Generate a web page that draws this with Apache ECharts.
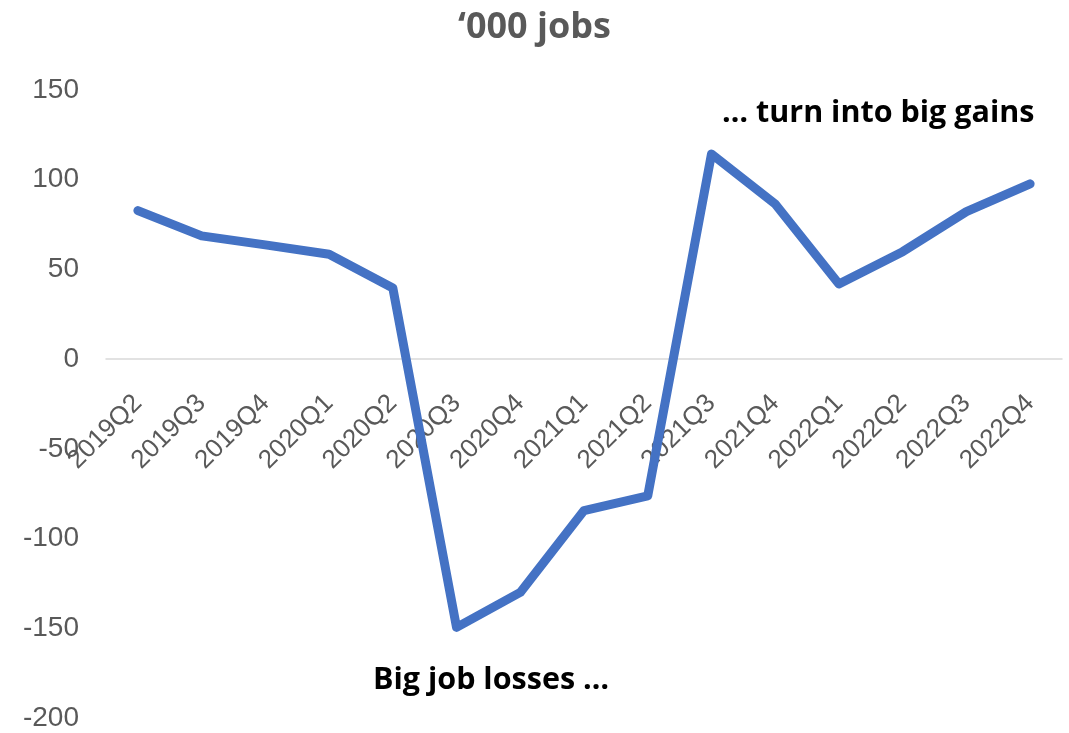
<!DOCTYPE html>
<html>
<head>
<meta charset="utf-8">
<script src="https://cdn.jsdelivr.net/npm/echarts@6/dist/echarts.min.js"></script>
<style>
  html, body { margin: 0; padding: 0; background: #ffffff; }
  #chart { width: 1069px; height: 733px; }
</style>
</head>
<body>
<div id="chart"></div>
<script>
// Quarterly change in employment, thousands of jobs
const quarters = ['2019Q2', '2019Q3', '2019Q4', '2020Q1', '2020Q2', '2020Q3', '2020Q4',
  '2021Q1', '2021Q2', '2021Q3', '2021Q4', '2022Q1', '2022Q2', '2022Q3', '2022Q4'];
const jobChange = [82.8, 68.7, 63.7, 58.5, 39.7, -149.5, -130, -84.4, -76.2, 114.3, 86.5, 41.9, 59.9, 82.2, 97.7];
const yTicks = { min: -200, max: 150, step: 50 };
const titleText = '\u2018000 jobs';
const noteGains = '\u2026 turn into big gains';
const noteLosses = 'Big job losses \u2026';

const font = '"Liberation Sans", Arial, sans-serif';
const boldFont = '"Open Sans", "Liberation Sans", sans-serif';

// plot area
const W = 1069, H = 733;
const gridBox = { left: 106, right: 7, top: 90, bottom: 15 };
const plotH = H - gridBox.top - gridBox.bottom;
// category axis sits on the zero line
const zeroFromBottom = plotH * (0 - yTicks.min) / (yTicks.max - yTicks.min);

const chart = echarts.init(document.getElementById('chart'), null, { renderer: 'canvas' });

chart.setOption({
  backgroundColor: '#ffffff',
  animation: false,
  title: {
    text: titleText,
    left: 'center',
    top: 5,
    textStyle: { fontFamily: boldFont, fontSize: 36, fontWeight: 'bold', color: '#595959' }
  },
  grid: Object.assign({ outerBoundsMode: 'none', containLabel: false }, gridBox),
  xAxis: {
    type: 'category',
    data: quarters,
    boundaryGap: true,
    position: 'bottom',
    offset: -zeroFromBottom,
    axisLine: { onZero: false, lineStyle: { color: '#d9d9d9', width: 1.5 } },
    axisTick: { show: false },
    axisLabel: {
      rotate: 45,
      interval: 0,
      margin: 40,
      fontFamily: font,
      fontSize: 26,
      color: '#595959'
    },
    splitLine: { show: false }
  },
  yAxis: {
    type: 'value',
    min: yTicks.min,
    max: yTicks.max,
    interval: yTicks.step,
    axisLine: { show: false },
    axisTick: { show: false },
    splitLine: { show: false },
    axisLabel: { margin: 27, fontFamily: font, fontSize: 28, color: '#595959' }
  },
  series: [{
    type: 'line',
    data: jobChange,
    symbol: 'none',
    lineStyle: { color: '#4472C4', width: 9, cap: 'round', join: 'round' }
  }],
  graphic: [
    {
      type: 'text', left: 722, top: 98,
      style: { text: noteGains, fontFamily: boldFont, fontSize: 30.5, fontWeight: 'bold', fill: '#000000' }
    },
    {
      type: 'text', left: 373, top: 665,
      style: { text: noteLosses, fontFamily: boldFont, fontSize: 30.5, fontWeight: 'bold', fill: '#000000' }
    }
  ]
});
</script>
</body>
</html>
